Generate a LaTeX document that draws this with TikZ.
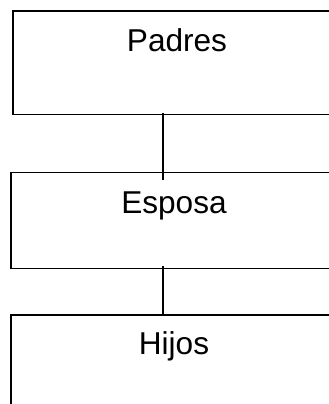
\documentclass[tikz,border=0pt]{standalone}
\usepackage{fontspec}
\setmainfont{Liberation Sans}
\tikzset{
  caja/.style={draw, line width=1.3pt, rectangle, inner sep=0pt, anchor=base,
    font=\fontsize{31.6}{38}\selectfont},
  enlace/.style={line width=1.3pt}
}
\begin{document}
\begin{tikzpicture}[x=1pt,y=-1pt]
        \useasboundingbox (0,0) rectangle (329,404);

        \node[caja, minimum width=328pt, text height=41pt, text depth=62.3pt] (padres) at (177,52) {Padres};
        \node[caja, minimum width=326pt, text height=41.2pt, text depth=54.8pt] (esposa) at (174,213.5) {Esposa};
        \node[caja, minimum width=326pt, text height=39pt, text depth=70pt] (hijos) at (174,354) {Hijos};

        \coordinate (eje) at (163,0);
        \draw[enlace] ([yshift=2pt]eje |- padres.south) -- ([yshift=-8pt]eje |- esposa.north);
        \draw[enlace] ([yshift=3pt]eje |- esposa.south) -- (eje |- hijos.north);

    \end{tikzpicture}
\end{document}
